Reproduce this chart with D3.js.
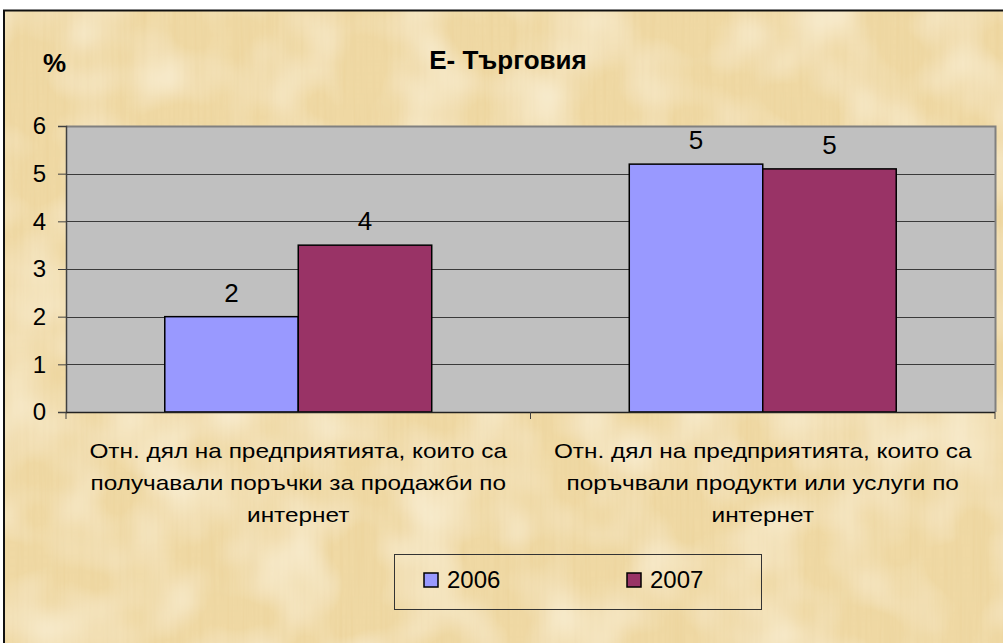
<!DOCTYPE html>
<html>
<head>
<meta charset="utf-8">
<script src="https://cdn.jsdelivr.net/npm/d3@7"></script>
<style>
  body { margin: 0; background: #fff; }
  svg text { font-family: "Liberation Sans", Arial, sans-serif; fill: #000; }
</style>
</head>
<body>
<div id="chartArea"></div>
<script>
// Daten
const categories = [
  ["Отн. дял на предприятията, които са", "получавали поръчки за продажби по", "интернет"],
  ["Отн. дял на предприятията, които са", "поръчвали продукти или услуги по", "интернет"]
];
const seriesNames = ["2006", "2007"];
const values2006 = [2.0, 5.2];
const values2007 = [3.5, 5.1];
const labels2006 = ["2", "5"];
const labels2007 = ["4", "5"];
const yTicks = [0, 1, 2, 3, 4, 5, 6];
const colors = ["#9999FF", "#993366"];

const width = 1003, height = 643;
const plot = {left: 66, right: 995, top: 126, bottom: 412};

const svg = d3.select("#chartArea").append("svg")
    .attr("width", width)
    .attr("height", height);

// Papyrus-Hintergrund
const defs = svg.append("defs");
const f = defs.append("filter").attr("id", "papyrus")
    .attr("x", 0).attr("y", 0).attr("width", 1).attr("height", 1);
f.append("feTurbulence").attr("type", "fractalNoise")
    .attr("baseFrequency", "0.3 0.01").attr("numOctaves", 2).attr("seed", 3).attr("result", "v");
f.append("feColorMatrix").attr("in", "v").attr("type", "matrix")
    .attr("values", "0 0 0 0 0.82  0 0 0 0 0.64  0 0 0 0 0.32  0 0 0 1.0 -0.35").attr("result", "vc");
f.append("feTurbulence").attr("type", "fractalNoise")
    .attr("baseFrequency", "0.008 0.25").attr("numOctaves", 2).attr("seed", 7).attr("result", "h");
f.append("feColorMatrix").attr("in", "h").attr("type", "matrix")
    .attr("values", "0 0 0 0 0.85  0 0 0 0 0.68  0 0 0 0 0.36  0 0 0 0.8 -0.3").attr("result", "hc");
f.append("feTurbulence").attr("type", "fractalNoise")
    .attr("baseFrequency", "0.015 0.015").attr("numOctaves", 2).attr("seed", 11).attr("result", "b");
f.append("feColorMatrix").attr("in", "b").attr("type", "matrix")
    .attr("values", "0 0 0 0 0.98  0 0 0 0 0.93  0 0 0 0 0.78  0 0 0 1.2 -0.45").attr("result", "bc");
f.append("feMerge").selectAll("feMergeNode")
    .data(["SourceGraphic", "vc", "hc", "bc"]).enter()
    .append("feMergeNode").attr("in", d => d);

svg.append("rect")
    .attr("x", 3).attr("y", 10)
    .attr("width", width + 10).attr("height", height + 10)
    .attr("fill", "#F0D9A4")
    .attr("filter", "url(#papyrus)");
svg.append("rect")
    .attr("x", 4).attr("y", 10.5)
    .attr("width", width + 10).attr("height", height + 10)
    .attr("fill", "none")
    .attr("stroke", "#111")
    .attr("stroke-width", 2);

// Skalen
const x0 = d3.scaleBand().domain(d3.range(categories.length))
    .range([plot.left, plot.right]).padding(0);
const x1 = d3.scaleBand().domain(seriesNames)
    .range([0, x0.bandwidth()]).paddingInner(0).paddingOuter(0.74);
const y = d3.scaleLinear().domain([0, 6]).range([plot.bottom, plot.top]);

// Plotfläche
svg.append("rect")
    .attr("x", plot.left).attr("y", plot.top)
    .attr("width", plot.right - plot.left).attr("height", plot.bottom - plot.top)
    .attr("fill", "#C0C0C0");

svg.selectAll(".grid")
    .data(yTicks.filter(d => d > 0 && d < 6))
    .enter().append("line")
    .attr("class", "grid")
    .attr("x1", plot.left).attr("x2", plot.right)
    .attr("y1", d => Math.round(y(d)) + 0.5).attr("y2", d => Math.round(y(d)) + 0.5)
    .attr("stroke", "#3a3a3a");

// Rahmen oben/rechts
svg.append("path")
    .attr("d", `M${plot.left},${plot.top + 0.5}H${plot.right + 0.5}V${plot.bottom}`)
    .attr("fill", "none").attr("stroke", "#808080").attr("stroke-width", 2);

// Balken
const bars = [values2006, values2007];
const dlabels = [labels2006, labels2007];
seriesNames.forEach((s, si) => {
  svg.selectAll(".bar-" + s)
      .data(bars[si])
      .enter().append("rect")
      .attr("class", "bar-" + s)
      .attr("x", (d, i) => x0(i) + x1(s))
      .attr("y", d => y(d))
      .attr("width", x1.bandwidth())
      .attr("height", d => y(0) - y(d))
      .attr("fill", colors[si])
      .attr("stroke", "#000")
      .attr("stroke-width", 1.5);

  svg.selectAll(".lbl-" + s)
      .data(bars[si])
      .enter().append("text")
      .attr("class", "lbl-" + s)
      .attr("x", (d, i) => x0(i) + x1(s) + x1.bandwidth() / 2)
      .attr("y", d => y(d) - 15)
      .attr("text-anchor", "middle")
      .style("font-size", "26px")
      .text((d, i) => dlabels[si][i]);
});

// Y-Achse
const yAxis = svg.append("g")
    .attr("transform", `translate(${plot.left},0)`)
    .call(d3.axisLeft(y).tickValues(yTicks).tickSize(8).tickPadding(12).tickFormat(d3.format("d")));
yAxis.select(".domain").attr("stroke", "#404040").attr("stroke-width", 1.5);
yAxis.selectAll(".tick line").attr("stroke", "#404040");
yAxis.selectAll(".tick text")
    .style("font-size", "24px")
    .style("font-family", "'Liberation Sans', Arial, sans-serif")
    .attr("fill", "#000");

// X-Achse
svg.append("line")
    .attr("x1", plot.left).attr("x2", plot.right)
    .attr("y1", plot.bottom + 0.5).attr("y2", plot.bottom + 0.5)
    .attr("stroke", "#222").attr("stroke-width", 1.5);
svg.selectAll(".xtick")
    .data([plot.left, x0(1), plot.right])
    .enter().append("line")
    .attr("class", "xtick")
    .attr("x1", d => d).attr("x2", d => d)
    .attr("y1", plot.bottom).attr("y2", plot.bottom + 7)
    .attr("stroke", "#404040");

// Kategorienbeschriftung (etwas breiter laufend wie im Original)
categories.forEach((lines, i) => {
  lines.forEach((ln, k) => {
    const t = svg.append("text")
        .attr("x", x0(i) + x0.bandwidth() / 2)
        .attr("y", 458 + k * 32)
        .attr("text-anchor", "middle")
        .style("font-size", "21px")
        .text(ln);
    const w = t.node().getComputedTextLength();
    t.attr("textLength", w * 1.16).attr("lengthAdjust", "spacingAndGlyphs");
  });
});

// Titel
svg.append("text")
    .attr("x", 508).attr("y", 69)
    .attr("text-anchor", "middle")
    .style("font-size", "26px")
    .style("font-weight", "bold")
    .text("Е- Търговия");

svg.append("text")
    .attr("x", 43).attr("y", 72)
    .style("font-size", "26px")
    .style("font-weight", "bold")
    .text("%");

// Legende
const legend = svg.append("g");
legend.append("rect")
    .attr("x", 394.5).attr("y", 554.5)
    .attr("width", 367).attr("height", 55)
    .attr("fill", "none")
    .attr("stroke", "#333");
const legX = [424, 627];
seriesNames.forEach((s, i) => {
  legend.append("rect")
      .attr("x", legX[i]).attr("y", 573)
      .attr("width", 14).attr("height", 14)
      .attr("fill", colors[i])
      .attr("stroke", "#000")
      .attr("stroke-width", 1.5);
  legend.append("text")
      .attr("x", legX[i] + 23).attr("y", 588)
      .style("font-size", "24px")
      .text(s);
});
</script>
</body>
</html>
